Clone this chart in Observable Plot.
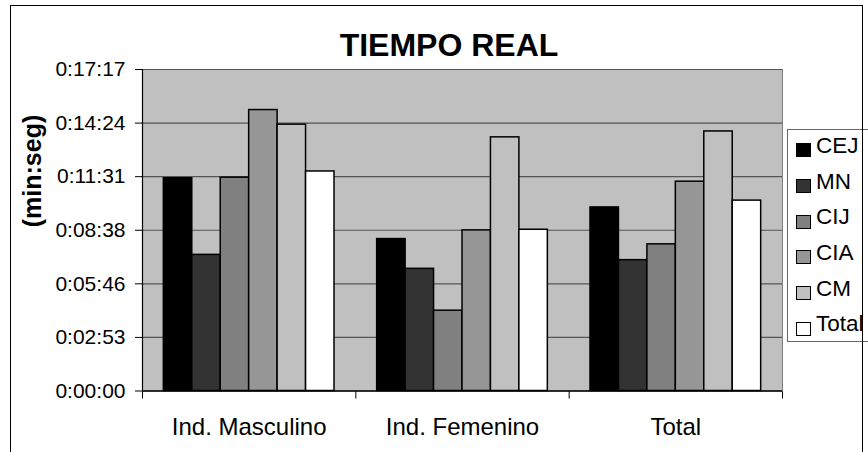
<!DOCTYPE html>
<html>
<head>
<meta charset="utf-8">
<script src="https://cdn.jsdelivr.net/npm/d3@7"></script>
<script src="https://cdn.jsdelivr.net/npm/@observablehq/plot@0.6"></script>
<style>
  body { margin: 0; background: #fff; }
  #wrap { position: relative; width: 868px; height: 452px; overflow: hidden; font-family: "Liberation Sans", Arial, sans-serif; background: #fff; }
  #chart { position: absolute; left: 0; top: 0; }
  #border { position: absolute; left: 10px; top: 5px; width: 853px; height: 470px; border: 1.5px solid #000; box-sizing: border-box; pointer-events: none; }
  #legend { position: absolute; left: 787px; top: 129px; width: 110px; height: 213px; border: 1px solid #666; box-sizing: border-box; background: #fff; }
  #legend .sw { position: absolute; left: 8px; width: 15px; height: 14px; border: 1.5px solid #000; box-sizing: border-box; }
  #legend .lt { position: absolute; left: 28px; font-size: 22.5px; line-height: 22px; color: #000; white-space: nowrap; }
</style>
</head>
<body>
<div id="wrap">
  <div id="chart"></div>
  <div id="legend"></div>
  <div id="border"></div>
</div>
<script>
// ---- data (seconds) ----
const categories = ["Ind. Masculino", "Ind. Femenino", "Total"];
const series = ["CEJ", "MN", "CIJ", "CIA", "CM", "Total"];
const CEJ   = [686, 490, 592];
const MN    = [439, 394, 422];
const CIJ   = [688, 259, 473];
const CIA   = [906, 518, 675];
const CM    = [859, 818, 837];
const TOTAL = [708, 520, 614];
const seriesColors = ["#000000", "#333333", "#808080", "#969696", "#c0c0c0", "#ffffff"];
const yTicks = [0, 172.8, 345.6, 518.4, 691.2, 864, 1036.8];
const yTickLabels = ["0:00:00", "0:02:53", "0:05:46", "0:08:38", "0:11:31", "0:14:24", "0:17:17"];
const title = "TIEMPO REAL";
const yTitle = "(min:seg)";

const valuesBySeries = [CEJ, MN, CIJ, CIA, CM, TOTAL];
const gapWidth = 1.5; // gap between groups, in bar widths
const slots = series.length + gapWidth;
const data = [];
categories.forEach((c, gi) => series.forEach((s, si) =>
  data.push({category: c, gi, series: s, si, value: valuesBySeries[si][gi]})));

const font = '"Liberation Sans", Arial, sans-serif';
const chart = Plot.plot({
  width: 868,
  height: 452,
  marginLeft: 142,
  marginRight: 86,
  marginTop: 69,
  marginBottom: 61.5,
  style: {fontFamily: font, fontSize: "21px", color: "#000", background: "transparent", overflow: "visible"},
  x: {domain: [0, categories.length], ticks: d3.range(categories.length + 1), tickFormat: () => "", tickSize: 8, label: null},
  y: {domain: [0, yTicks[yTicks.length - 1]], ticks: yTicks, tickFormat: d => yTickLabels[yTicks.indexOf(d)], tickSize: 7, tickPadding: 10, label: null},
  color: {domain: series, range: seriesColors},
  marks: [
    Plot.frame({fill: "#c0c0c0", stroke: "#808080"}),
    Plot.ruleY(yTicks.slice(1), {stroke: "#555", strokeWidth: 1.2}),
    Plot.rectY(data, {
      x1: d => d.gi + (gapWidth / 2 + d.si) / slots,
      x2: d => d.gi + (gapWidth / 2 + d.si + 1) / slots,
      y: "value",
      fill: "series",
      stroke: "#000",
      strokeWidth: 1.5
    }),
    Plot.ruleX([0], {stroke: "#000", strokeWidth: 1.2}),
    Plot.ruleY([0], {stroke: "#000", strokeWidth: 1.5}),
    Plot.text(categories, {x: (d, i) => i + 0.5, frameAnchor: "bottom", lineAnchor: "bottom", dy: 43.5, fontSize: 24, fill: "#000"}),
    Plot.text([title], {frameAnchor: "top", lineAnchor: "bottom", dx: 448.5 - 462, dy: 55.5 - 69, fontSize: 32, fontWeight: "bold", fill: "#000"}),
    Plot.text([yTitle], {frameAnchor: "left", lineAnchor: "bottom", rotate: -90, dx: -102, dy: -3, fontSize: 25, fontWeight: "bold", fill: "#000"})
  ]
});
document.getElementById("chart").appendChild(chart);

// ---- legend ----
const legend = d3.select("#legend");
series.forEach((s, i) => {
  legend.append("div").attr("class", "sw")
    .style("top", (13.3 + 35.7 * i) + "px")
    .style("background", seriesColors[i]);
  legend.append("div").attr("class", "lt")
    .style("top", (4.8 + 35.7 * i) + "px")
    .text(s);
});
</script>
</body>
</html>
